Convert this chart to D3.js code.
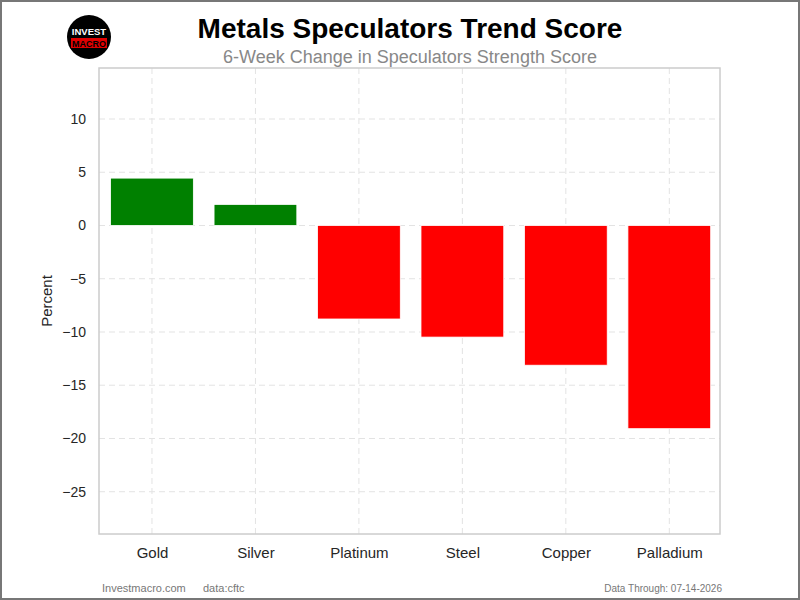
<!DOCTYPE html>
<html><head><meta charset="utf-8">
<script src="https://cdn.jsdelivr.net/npm/d3@7"></script>
<style>body{margin:0;background:#fff;} svg{display:block;}</style>
</head><body>
<script>
const categories = ["Gold","Silver","Platinum","Steel","Copper","Palladium"];
const values = [4.45, 1.98, -8.78, -10.48, -13.12, -19.08];
const yTicks = [-25,-20,-15,-10,-5,0,5,10];
const title = "Metals Speculators Trend Score";
const subtitle = "6-Week Change in Speculators Strength Score";

const W=800,H=600;
const svg=d3.select("body").append("svg").attr("width",W).attr("height",H);
svg.append("rect").attr("x",1).attr("y",1).attr("width",W-2).attr("height",H-2).attr("fill","#fff").attr("stroke","#777").attr("stroke-width",2);

const L=99,R=720,T=68,B=534;
const x=d3.scaleLinear().domain([-0.512,5.49]).range([L,R]);
const y=d3.scaleLinear().domain([14.79,-28.97]).range([T,B]);
const font="Liberation Sans, Arial, sans-serif";

// grid
const g=svg.append("g");
g.selectAll(".gy").data(yTicks).join("line").attr("x1",L).attr("x2",R).attr("y1",d=>y(d)).attr("y2",d=>y(d))
 .attr("stroke","#e3e3e3").attr("stroke-dasharray","6,4").attr("stroke-width",1);
g.selectAll(".gx").data(categories).join("line").attr("y1",T).attr("y2",B).attr("x1",(d,i)=>x(i)).attr("x2",(d,i)=>x(i))
 .attr("stroke","#e3e3e3").attr("stroke-dasharray","6,4").attr("stroke-width",1);

// bars
const bw=x(0.4)-x(-0.4);
svg.selectAll(".bar").data(values).join("rect")
 .attr("x",(d,i)=>x(i)-bw/2).attr("width",bw)
 .attr("y",d=>y(Math.max(0,d))).attr("height",d=>Math.abs(y(d)-y(0)))
 .attr("fill",d=>d>=0?"#008000":"#ff0000").attr("stroke","#fff").attr("stroke-width",0.8);

// frame
svg.append("rect").attr("x",L).attr("y",T).attr("width",R-L).attr("height",B-T).attr("fill","none").attr("stroke","#cccccc").attr("stroke-width",1.5);

// axes
const ya=svg.append("g").attr("transform",`translate(${L},0)`).call(d3.axisLeft(y).tickValues(yTicks).tickSize(0).tickPadding(13).tickFormat(d=>d<0?"\u2212"+Math.abs(d):d));
ya.select(".domain").remove();
ya.selectAll("text").attr("font-family",font).attr("font-size",14).attr("fill","#262626");
const xa=svg.append("g").attr("transform",`translate(0,${B})`).call(d3.axisBottom(x).tickValues(d3.range(categories.length)).tickSize(0).tickPadding(13).tickFormat(i=>categories[i]));
xa.select(".domain").remove();
xa.selectAll("text").attr("font-family",font).attr("font-size",15).attr("fill","#262626");

svg.append("text").attr("transform",`translate(52,${(T+B)/2}) rotate(-90)`).attr("text-anchor","middle")
 .attr("font-family",font).attr("font-size",15).attr("fill","#262626").text("Percent");

// titles
svg.append("text").attr("x",410).attr("y",38).attr("text-anchor","middle").attr("font-family",font).attr("font-weight","bold").attr("font-size",28).attr("fill","#000").text(title);
svg.append("text").attr("x",410).attr("y",63).attr("text-anchor","middle").attr("font-family",font).attr("font-size",18).attr("fill","#888").text(subtitle);

// logo
const lg=svg.append("g").attr("transform","translate(89,37)");
lg.append("circle").attr("r",22).attr("fill","#000");
lg.append("text").attr("y",-2).attr("text-anchor","middle").attr("font-family",font).attr("font-weight","bold").attr("font-size",9.5).attr("fill","#fff").text("INVEST");
lg.append("rect").attr("x",-18).attr("y",1).attr("width",36).attr("height",10).attr("fill","#e00000");
lg.append("text").attr("y",9.5).attr("text-anchor","middle").attr("font-family",font).attr("font-weight","bold").attr("font-size",9).attr("fill","#000").text("MACRO");

// footer
const f1=svg.append("text").attr("x",102).attr("y",592).attr("font-size",11).text("Investmacro.com");
const f2=svg.append("text").attr("x",203).attr("y",592).attr("font-size",11).text("data:cftc");
const f3=svg.append("text").attr("x",722).attr("y",592).attr("text-anchor","end").attr("font-size",10).text("Data Through: 07-14-2026");
[f1,f2,f3].forEach(t=>t.attr("font-family",font).attr("fill","#777"));
</script>
</body></html>
